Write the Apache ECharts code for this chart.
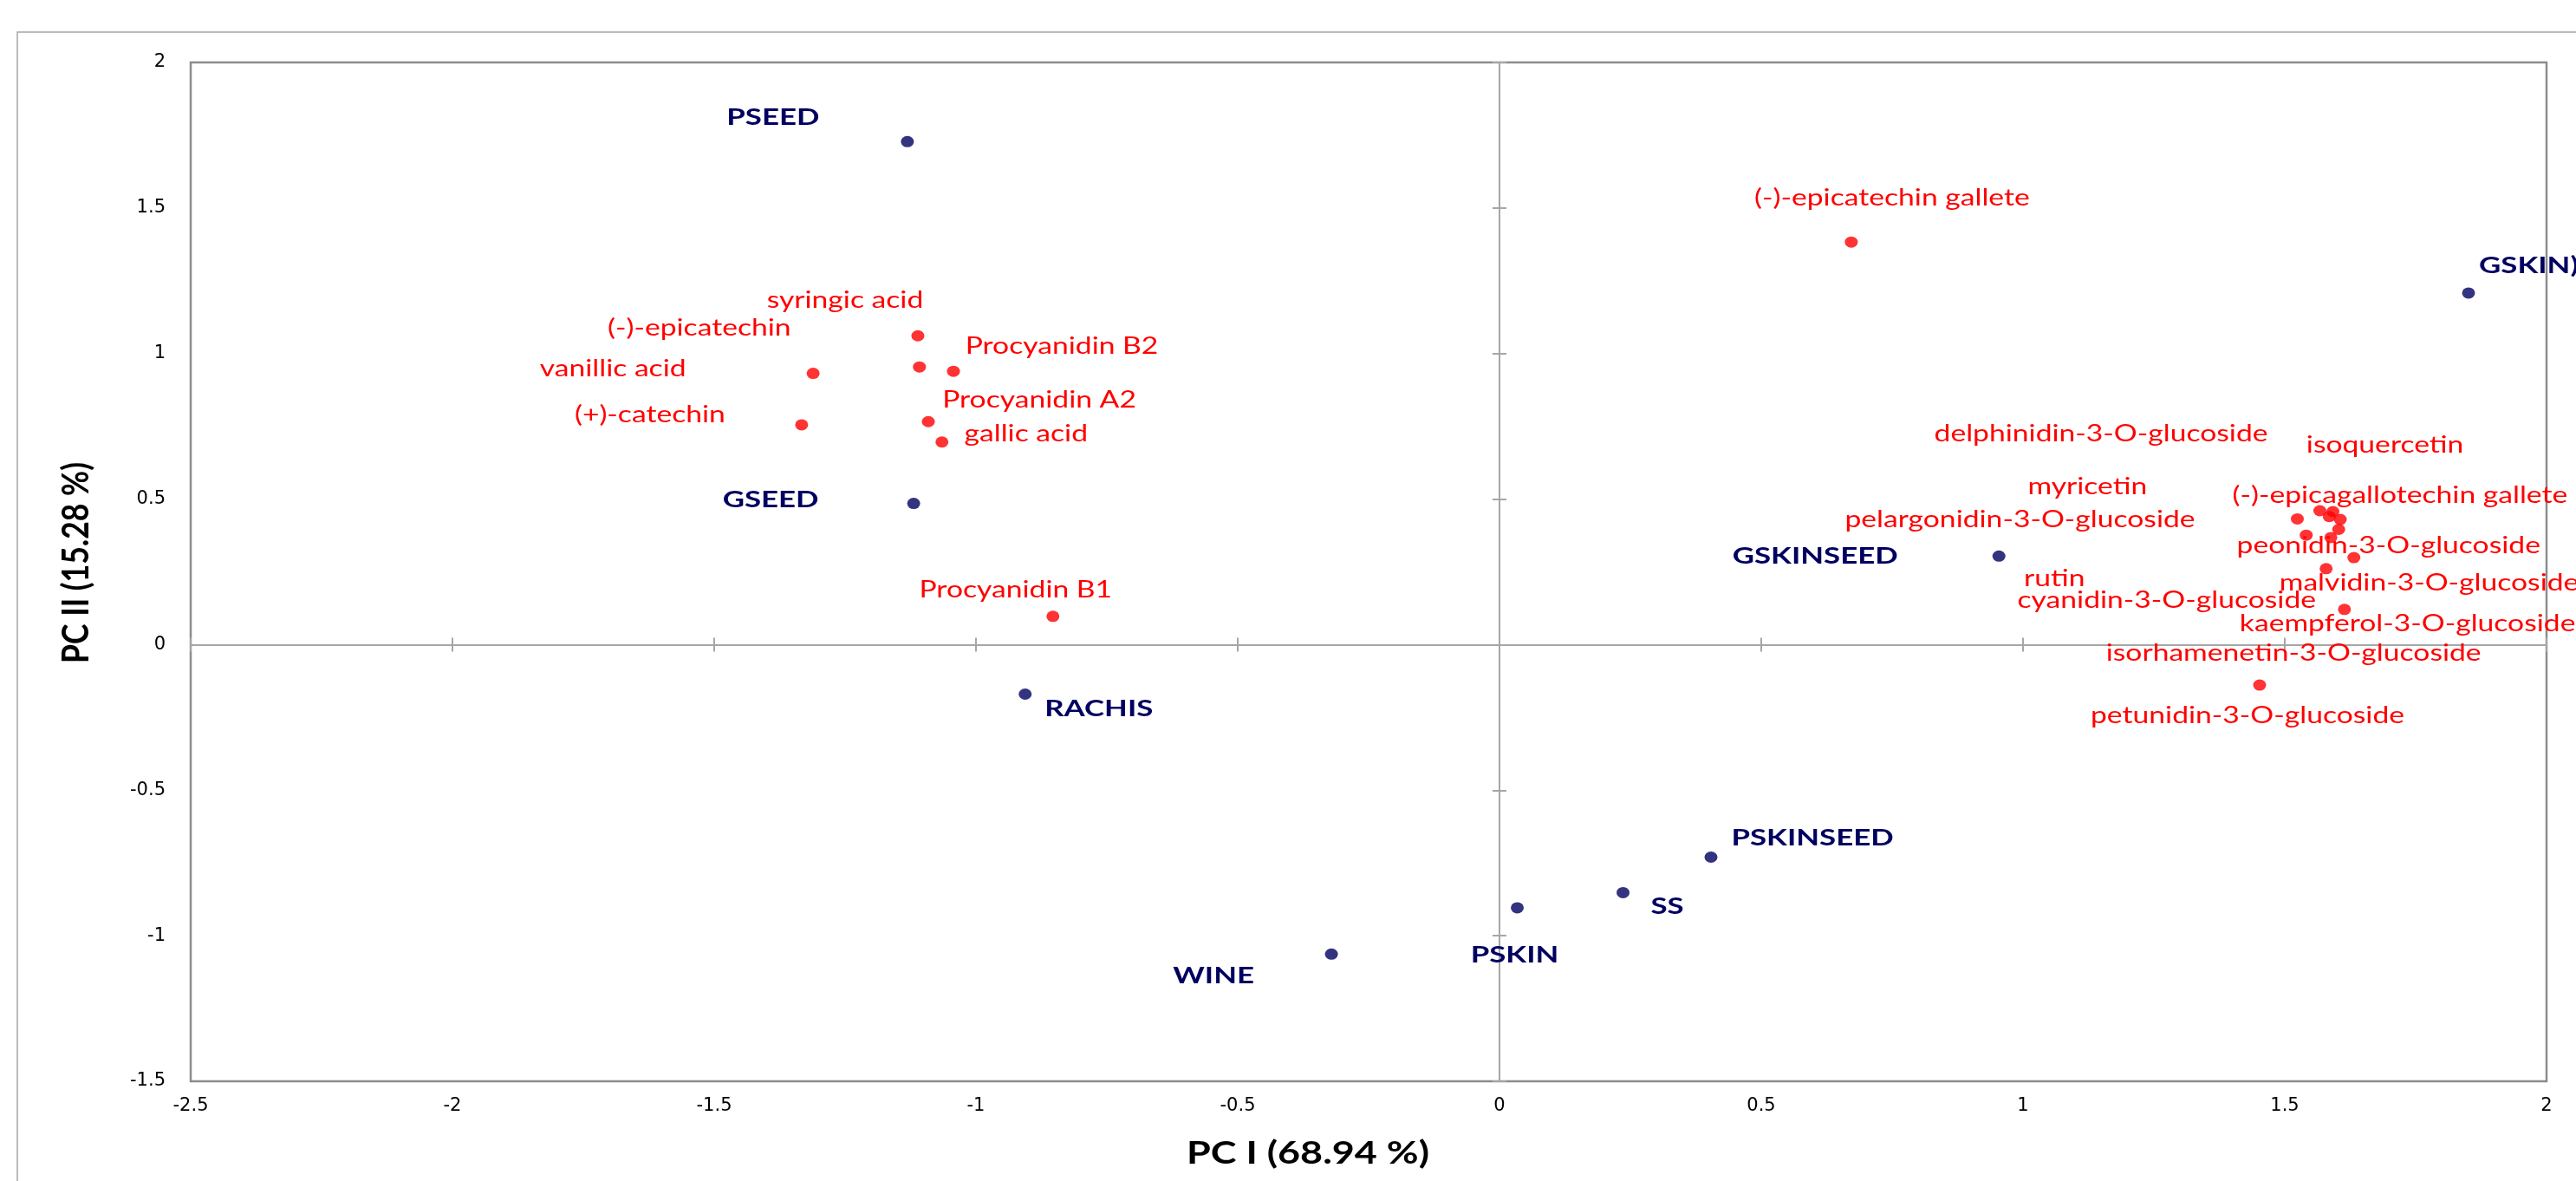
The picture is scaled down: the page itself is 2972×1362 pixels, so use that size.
<!DOCTYPE html>
<html>
<head>
<meta charset="utf-8">
<script src="https://cdn.jsdelivr.net/npm/echarts@6/dist/echarts.min.js"></script>
<style>
html,body{margin:0;padding:0;background:#ffffff;}
#chart{width:2972px;height:1362px;}
</style>
</head>
<body>
<div id="chart"></div>
<script>
// ---------------- data ----------------
const xTicks = [-2.5, -2, -1.5, -1, -0.5, 0, 0.5, 1, 1.5, 2];
const yTicks = [-1.5, -1, -0.5, 0, 0.5, 1, 1.5, 2];
const xTitle = 'PC I (68.94 %)';
const yTitle = 'PC II (15.28 %)';

const sampleNames = ['PSEED', 'GSEED', 'RACHIS', 'WINE', 'PSKIN', 'SS', 'PSKINSEED', 'GSKINSEED', 'GSKIN)'];
const samplePC1 = [-1.131, -1.119, -0.906, -0.321, 0.034, 0.236, 0.404, 0.954, 1.851];
const samplePC2 = [1.728, 0.485, -0.170, -1.063, -0.904, -0.852, -0.730, 0.304, 1.208];

const compoundNames = [
  '(-)-epicatechin gallete', 'syringic acid', '(-)-epicatechin', 'Procyanidin B2',
  'vanillic acid', '(+)-catechin', 'Procyanidin A2', 'gallic acid', 'Procyanidin B1',
  'delphinidin-3-O-glucoside', 'isoquercetin', 'myricetin', '(-)-epicagallotechin gallete',
  'pelargonidin-3-O-glucoside', 'peonidin-3-O-glucoside', 'rutin', 'malvidin-3-O-glucoside',
  'cyanidin-3-O-glucoside', 'kaempferol-3-O-glucoside', 'isorhamenetin-3-O-glucoside',
  'petunidin-3-O-glucoside'
];
const compoundPC1 = [0.672, -1.111, -1.108, -1.043, -1.311, -1.333, -1.091, -1.065, -0.853,
  1.606, 1.592, 1.585, 1.567, 1.524, 1.632, 1.603, 1.579, 1.541, 1.614, 1.588, 1.452];
const compoundPC2 = [1.383, 1.061, 0.954, 0.939, 0.932, 0.755, 0.766, 0.696, 0.097,
  0.430, 0.457, 0.440, 0.460, 0.432, 0.299, 0.396, 0.261, 0.376, 0.121, 0.368, -0.139];

// ---------------- label placement (pixel offsets from each point) ----------------
const sampleLabelOffsets = [
  [-155, -28], [-165, -4], [85, 17], [-136, 25], [-3, 55], [51, 16], [117, -22], [-212, 0], [12, -31, 'left']
];
const compoundLabelOffsets = [
  [47, -51], [-84, -41], [-254, -45], [125, -29], [-231, -5], [-175, -11], [128, -25], [97, -9], [-43, -30],
  [-276, -98], [60, -76], [-279, -34], [-101, -17, 'left'], [-320, 1], [40, -13], [-328, 57],
  [-54, 17, 'left'], [-161, 75], [-121, 17, 'left'], [-43, 134], [-14, 36]
];

// ---------------- styles ----------------
const NAVY = '#000060';
const RED = '#ff0000';
const AXIS_GRAY = '#a6a6a6';
const FRAME_GRAY = '#8c8c8c';
const redFont = '26px Lato';
const blueFont = 'bold 26px Lato';
const titleFontFamily = 'Lato';

const measureCtx = document.createElement('canvas').getContext('2d');
function textWidth(font, text) { measureCtx.font = font; return measureCtx.measureText(text).width; }
// the reference is horizontally stretched; fit stretch to measured reference widths
const redSX = 362 / textWidth(redFont, 'petunidin-3-O-glucoside');
const blueSX = 191 / textWidth(blueFont, 'GSKINSEED');
const xTitleFont = 'bold 36px ' + titleFontFamily;
const xTitleSX = 280 / textWidth(xTitleFont, xTitle);
const yTitleSize = 36 * 232 / textWidth('bold 36px ' + titleFontFamily, yTitle);
const yTitleFont = 'bold ' + yTitleSize.toFixed(2) + 'px ' + titleFontFamily;
const yTitleSY = 30.7 / (0.7165 * yTitleSize);

function zip(a, b) { return a.map((v, i) => [v, b[i]]); }

function labelSeries(points, names, offsets, font, color, sx) {
  return {
    type: 'custom',
    data: points,
    encode: { x: 0, y: 1 },
    clip: false,
    silent: true,
    z: 4,
    renderItem: function (params, api) {
      const p = api.coord([api.value(0), api.value(1)]);
      const o = offsets[params.dataIndex];
      const align = o[2] || 'center';
      return {
        type: 'text',
        x: p[0] + o[0],
        y: p[1] + o[1],
        scaleX: sx,
        scaleY: 1,
        style: {
          text: names[params.dataIndex],
          font: font,
          fill: color,
          align: align,
          verticalAlign: 'middle',
          textAlign: align,
          textVerticalAlign: 'middle'
        }
      };
    }
  };
}

const xBase = { type: 'value', min: xTicks[0], max: xTicks[xTicks.length - 1], interval: xTicks[1] - xTicks[0], splitLine: { show: false } };
const yBase = { type: 'value', min: yTicks[0], max: yTicks[yTicks.length - 1], interval: yTicks[1] - yTicks[0], splitLine: { show: false } };
const tickLabelStyle = { color: '#000000', fontFamily: 'DejaVu Sans', fontSize: 21 };
const zeroLine = { show: true, onZero: true, onZeroAxisIndex: 0, lineStyle: { color: AXIS_GRAY, width: 2 } };

const chart = echarts.init(document.getElementById('chart'), null, { renderer: 'canvas' });
chart.setOption({
  animation: false,
  backgroundColor: '#ffffff',
  grid: {
    left: 220, top: 72, right: 34, bottom: 115,
    show: true, borderColor: FRAME_GRAY, borderWidth: 2.5, backgroundColor: 'transparent',
    outerBoundsMode: 'none'
  },
  xAxis: [
    Object.assign({}, xBase, { position: 'bottom', axisLine: { show: false, onZero: false }, axisTick: { show: false },
      axisLabel: Object.assign({ margin: 18 }, tickLabelStyle) }),
    Object.assign({}, xBase, { position: 'bottom', axisLine: zeroLine,
      axisTick: { show: true, inside: false, length: 8, lineStyle: { color: AXIS_GRAY, width: 2 } }, axisLabel: { show: false } }),
    Object.assign({}, xBase, { position: 'bottom', axisLine: zeroLine,
      axisTick: { show: true, inside: true, length: 8, lineStyle: { color: AXIS_GRAY, width: 2 } }, axisLabel: { show: false } })
  ],
  yAxis: [
    Object.assign({}, yBase, { position: 'left', axisLine: { show: false, onZero: false }, axisTick: { show: false },
      axisLabel: Object.assign({ margin: 29 }, tickLabelStyle) }),
    Object.assign({}, yBase, { position: 'left', axisLine: zeroLine,
      axisTick: { show: true, inside: false, length: 8, lineStyle: { color: AXIS_GRAY, width: 2 } }, axisLabel: { show: false } }),
    Object.assign({}, yBase, { position: 'left', axisLine: zeroLine,
      axisTick: { show: true, inside: true, length: 8, lineStyle: { color: AXIS_GRAY, width: 2 } }, axisLabel: { show: false } })
  ],
  graphic: [
    { type: 'polyline', silent: true, shape: { points: [[20, 1362], [20, 37], [2972, 37]] },
      style: { stroke: '#a6a6a6', lineWidth: 1.5, fill: 'none' } },
    { type: 'text', silent: true, x: 1509, y: 1330, scaleX: xTitleSX,
      style: { text: xTitle, font: xTitleFont, fill: '#000000', align: 'center', verticalAlign: 'middle', textAlign: 'center', textVerticalAlign: 'middle' } },
    { type: 'text', silent: true, x: 88, y: 649, rotation: Math.PI / 2, scaleY: yTitleSY,
      style: { text: yTitle, font: yTitleFont, fill: '#000000', align: 'center', verticalAlign: 'middle', textAlign: 'center', textVerticalAlign: 'middle' } }
  ],
  series: [
    { name: 'samples', type: 'scatter', xAxisIndex: 0, yAxisIndex: 0, data: zip(samplePC1, samplePC2),
      symbol: 'circle', symbolSize: [15, 13], itemStyle: { color: NAVY }, z: 3 },
    { name: 'compounds', type: 'scatter', xAxisIndex: 0, yAxisIndex: 0, data: zip(compoundPC1, compoundPC2),
      symbol: 'circle', symbolSize: [15, 13], itemStyle: { color: RED }, z: 3 },
    labelSeries(zip(samplePC1, samplePC2), sampleNames, sampleLabelOffsets, blueFont, NAVY, blueSX),
    labelSeries(zip(compoundPC1, compoundPC2), compoundNames, compoundLabelOffsets, redFont, RED, redSX)
  ]
});
</script>
</body>
</html>
